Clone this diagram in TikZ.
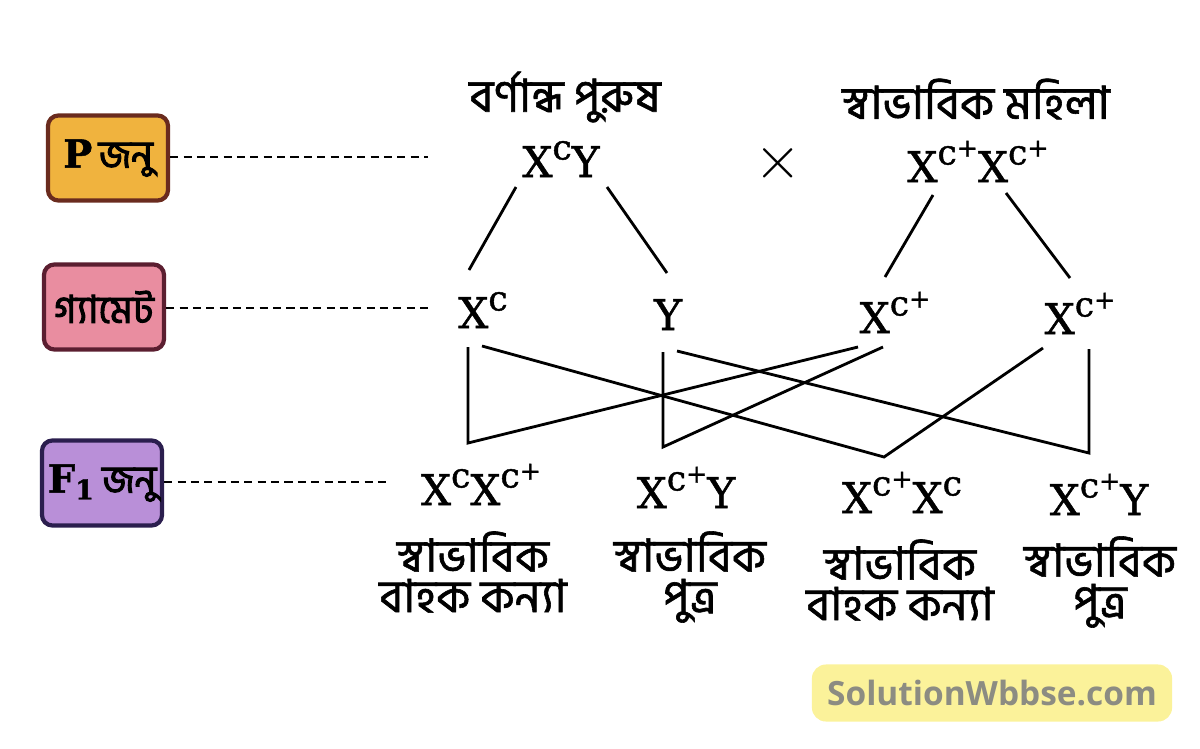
\documentclass[tikz,border=0pt]{standalone}
\usepackage{fontspec}
\newfontfamily\bn[Script=Bengali, FakeBold=1.3]{Hind Siliguri}
\newfontfamily\bnbold[Script=Bengali, FakeBold=2.5]{Hind Siliguri}
\newfontfamily\genofont[FakeBold=1.2]{DejaVu Serif}
\newfontfamily\wmfont{Open Sans}
\usetikzlibrary{positioning}

\definecolor{pfill}{HTML}{F0B33E}
\definecolor{pline}{HTML}{6A2B1E}
\definecolor{gfill}{HTML}{E98DA0}
\definecolor{gline}{HTML}{5B1E30}
\definecolor{ffill}{HTML}{B98FD8}
\definecolor{fline}{HTML}{2B1E4E}
\definecolor{wmfill}{HTML}{FBF29A}
\definecolor{wmtext}{HTML}{8C8C82}

% allele with superscript
\newcommand{\Xs}[1]{X\raisebox{5pt}{\fontsize{9.8}{10}\selectfont #1}}
\newcommand{\cplus}{c\raisebox{2.2pt}{\fontsize{7.2}{8}\selectfont +}}

\tikzset{
  genbox/.style={line width=1.2pt, rounded corners=3pt, minimum width=1.2cm,
    minimum height=0.85cm, inner sep=0pt, font=\fontsize{11}{13}\selectfont},
  geno/.style={anchor=base, inner sep=0pt, font=\genofont\fontsize{12}{14}\selectfont},
  bnlabel/.style={align=center, inner sep=0pt, font=\bn\fontsize{13}{11.5}\selectfont},
  dashline/.style={line width=0.7pt, dash pattern=on 2.3pt off 1.5pt},
  link/.style={line width=0.8pt}
}

\begin{document}
\begin{tikzpicture}[x=0.01cm, y=-0.01cm]
		\useasboundingbox (0,0) rectangle (1200,748);
		% generation boxes
		\node[genbox, fill=pfill, draw=pline] (pBox) at (108,158) {{\genofont\bfseries P}\,{\bnbold জনু}};
		\node[genbox, fill=gfill, draw=gline] (gBox) at (104,307) {\bnbold গ্যামেট};
		\node[genbox, fill=ffill, draw=fline] (fBox) at (102,483) {{\genofont\bfseries F\textsubscript{1}}\,{\bnbold জনু}};
		% parents
		\node[bnlabel] (maleLab) at (565,97) {বর্ণান্ধ পুরুষ};
		\node[bnlabel] (femaleLab) at (976,99) {স্বাভাবিক মহিলা};
		\node[geno] (pM) at (561,177) {\Xs{c}Y};
		\node[geno] (pF) at (978,182) {\Xs{\cplus}\Xs{\cplus}};
		\node[font=\fontsize{18}{18}\selectfont] (cross) at (778,163) {$\times$};
		% gametes
		\node[geno] (gA) at (483,328) {\Xs{c}};
		\node[geno] (gB) at (668,330) {Y};
		\node[geno] (gC) at (895,333) {\Xs{\cplus}};
		\node[geno] (gD) at (1080,334) {\Xs{\cplus}};
		% offspring
		\node[geno] (f1) at (481,505) {\Xs{c}\Xs{\cplus}};
		\node[geno] (f2) at (686,508) {\Xs{\cplus}Y};
		\node[geno] (f3) at (902,513) {\Xs{\cplus}\Xs{c}};
		\node[geno] (f4) at (1099,515) {\Xs{\cplus}Y};
		\node[bnlabel] (d1) at (473,572) {স্বাভাবিক\\বাহক কন্যা};
		\node[bnlabel] (d2) at (690,577) {স্বাভাবিক\\পুত্র};
		\node[bnlabel] (d3) at (900,580) {স্বাভাবিক\\বাহক কন্যা};
		\node[bnlabel] (d4) at (1100,582) {স্বাভাবিক\\পুত্র};
		% dashed leaders
		\coordinate (pEnd) at (428,157);
		\coordinate (gEnd) at (430,308);
		\coordinate (fEnd) at (390,482);
		\draw[dashline] (pBox.east |- pEnd) -- (pEnd);
		\draw[dashline] (gBox.east |- gEnd) -- (gEnd);
		\draw[dashline] (fBox.east |- fEnd) -- (fEnd);
		% parents to gametes
		\draw[link] ([shift={(-45,10)}]pM.base) -- ([shift={(-14,-58)}]gA.base);
		\draw[link] ([shift={(46,10)}]pM.base) -- ([shift={(-1,-57)}]gB.base);
		\draw[link] ([shift={(-45,13)}]pF.base) -- ([shift={(-10,-56)}]gC.base);
		\draw[link] ([shift={(28,11)}]pF.base) -- ([shift={(-10,-56)}]gD.base);
		% gametes to offspring
		\coordinate (v1) at ([shift={(-13,-62)}]f1.base);
		\coordinate (v2) at ([shift={(-23,-61)}]f2.base);
		\coordinate (v3) at ([shift={(-18,-56)}]f3.base);
		\coordinate (v4) at ([shift={(-10,-62)}]f4.base);
		\draw[link] ([shift={(-15,19)}]gA.base) -- (v1) -- ([shift={(-37,14)}]gC.base);
		\draw[link] ([shift={(-5,22)}]gB.base) -- (v2) -- ([shift={(-12,14)}]gC.base);
		\draw[link] ([shift={(-1,18)}]gA.base) -- (v3) -- ([shift={(-37,14)}]gD.base);
		\draw[link] ([shift={(9,21)}]gB.base) -- (v4) -- ([shift={(9,15)}]gD.base);
		% site mark
		\node[fill=wmfill, rounded corners=4pt, minimum width=3.6cm, minimum height=0.57cm,
		  text=wmtext, font=\wmfont\bfseries\fontsize{9.5}{11}\selectfont] (site) at (992,693) {SolutionWbbse.com};
\end{tikzpicture}
\end{document}
